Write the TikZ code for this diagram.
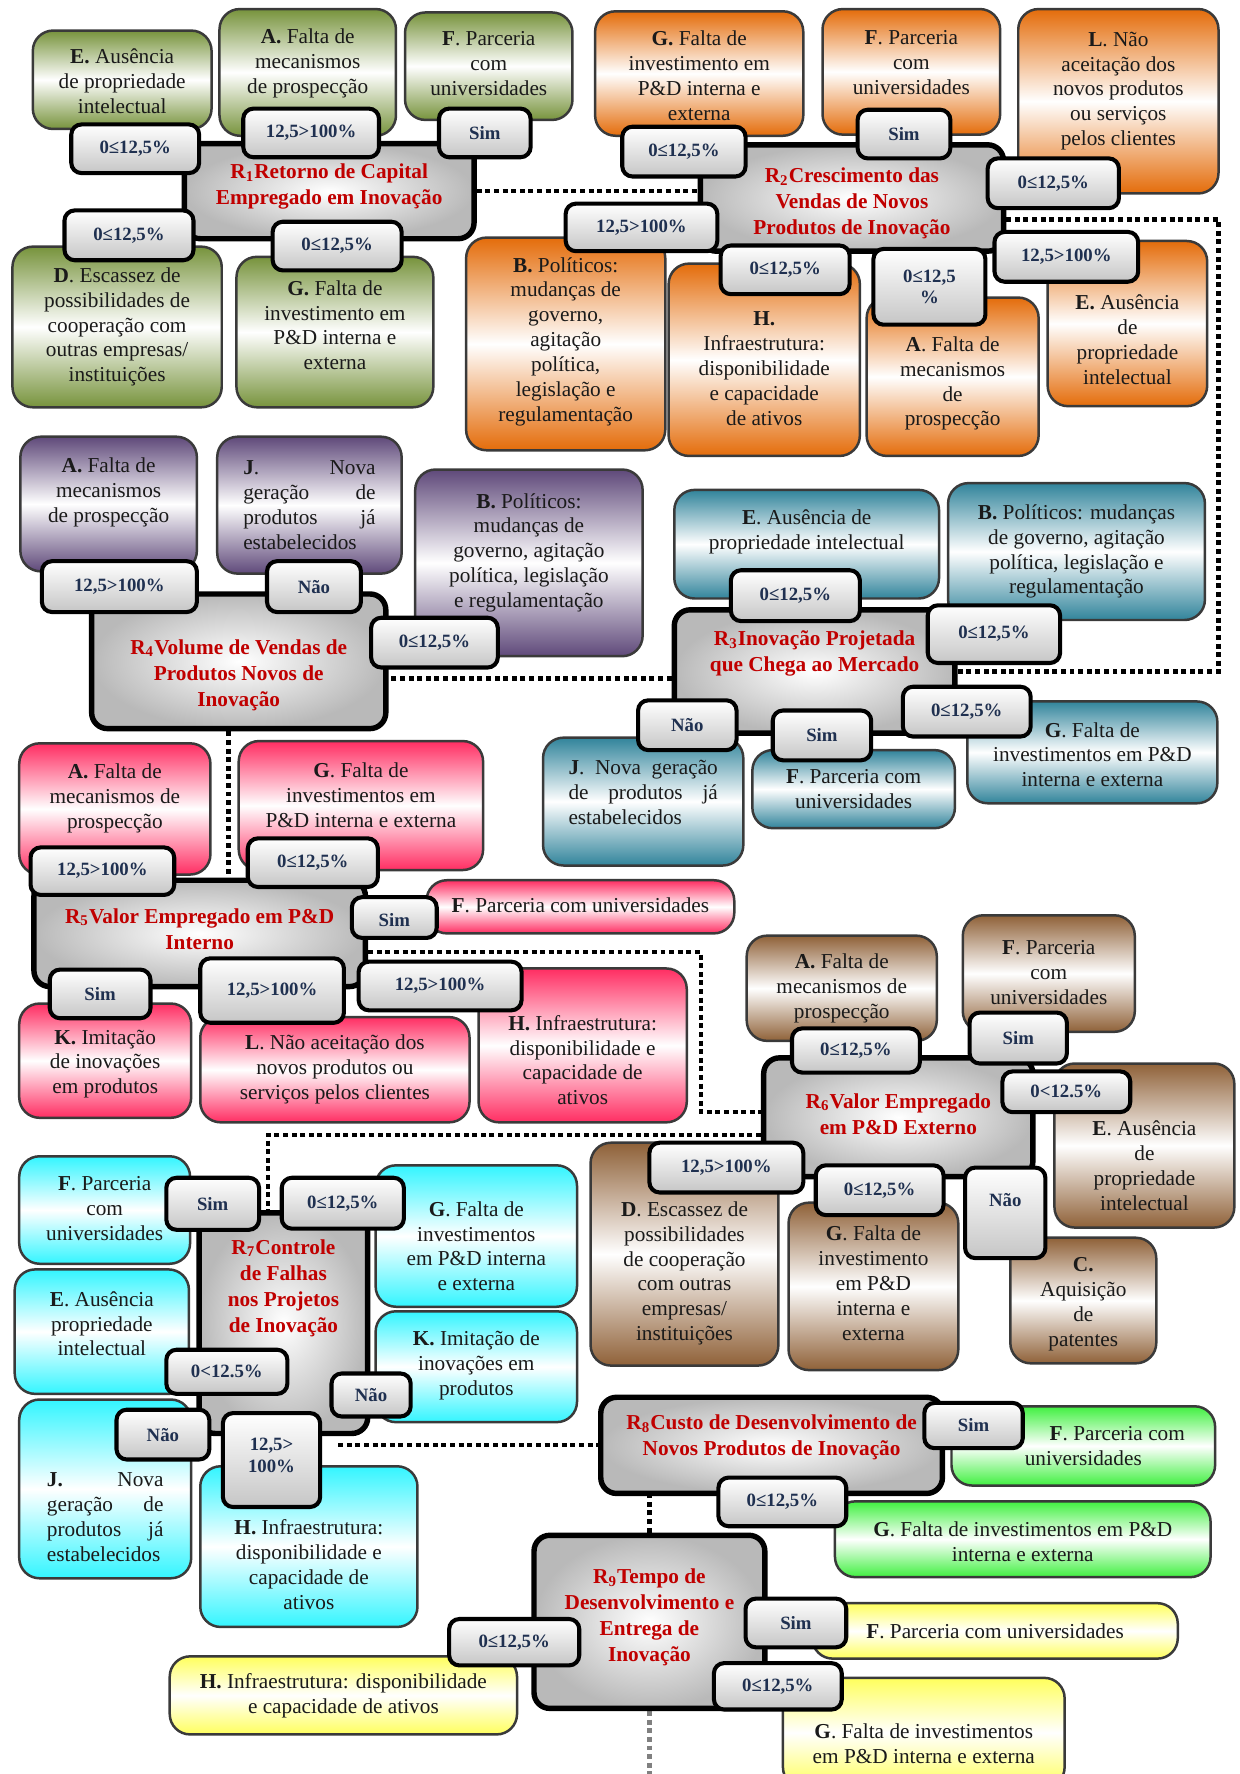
\documentclass[tikz,border=0pt]{standalone}
\usepackage{fontspec}
\setmainfont{Liberation Serif}
\usetikzlibrary{backgrounds}
\definecolor{cOl}{HTML}{77933C}
\definecolor{cOr}{HTML}{E46C0A}
\definecolor{cPu}{HTML}{5F497A}
\definecolor{cTe}{HTML}{31849B}
\definecolor{cPk}{HTML}{FF2D62}
\definecolor{cBr}{HTML}{8F6138}
\definecolor{cCy}{HTML}{33F5FF}
\definecolor{cGr}{HTML}{40F040}
\definecolor{cYe}{HTML}{FFFF5C}
\definecolor{cNavy}{HTML}{1F3050}
\definecolor{cRed}{HTML}{C00000}
\definecolor{cBd}{HTML}{3A3A3A}
\definecolor{cTx}{HTML}{1A1A1A}
\tikzset{
  cat/.style={rounded corners=9pt, draw=cBd, line width=1.1pt, top color=#1, bottom color=#1, middle color=white, inner sep=0pt},
  ct/.style={font=\fontsize{9.4}{11}\selectfont, align=center, inner sep=0pt, text=cTx},
  jt/.style={font=\fontsize{9.4}{11}\selectfont, align=left, text width=#1, inner sep=0pt, text=cTx},
  lab/.style={rounded corners=4.5pt, draw=black, line width=1.8pt, top color=white, bottom color=gray!45, inner sep=0pt},
  lt/.style={font=\bfseries\fontsize{8.3}{9.5}\selectfont, text=cNavy, align=center, inner sep=0pt},
  rb/.style={rounded corners=7pt, draw=black, line width=2.4pt, inner color=white, outer color=gray!55, inner sep=0pt},
  rt/.style={font=\bfseries\fontsize{9.4}{11.5}\selectfont, text=cRed, align=center, inner sep=0pt},
  dl/.style={line width=2pt, dash pattern=on 2.2pt off 1.6pt}
}
% #1 box style, #2 text style, #3 name, #4 x1, #5 y1, #6 x2, #7 y2, #8 text dy, #9 text
\newcommand\bx[9]{%
 \pgfmathsetmacro\bxcx{(#4+#6)/2}%
 \pgfmathsetmacro\bxcy{(#5+#7)/2}%
 \pgfmathsetmacro\bxty{(#5+#7)/2+(#8)}%
 \pgfmathsetmacro\bxw{(#6-#4)/2}%
 \pgfmathsetmacro\bxh{(#7-#5)/2}%
 \node[#1,minimum width=\bxw pt,minimum height=\bxh pt] (#3) at (\bxcx,\bxcy) {};%
 \node[#2] (#3-t) at (\bxcx,\bxty) {#9};%
}
\begin{document}
\begin{tikzpicture}[x=0.5pt,y=-0.5pt]
\useasboundingbox (0,0) rectangle (1096,1568);
% ---------- category boxes ----------
% R1 (olive)
\bx{cat=cOl}{ct}{E1}{29}{27}{187}{114}{1}{\textbf{E.} Ausência\\de propriedade\\intelectual}
\bx{cat=cOl}{ct}{A1}{194}{8}{350}{120}{-8}{\textbf{A.} Falta de\\mecanismos\\de prospecção}
\bx{cat=cOl}{ct}{F1}{358}{11}{506}{106}{-2}{\textbf{F}. Parceria\\com\\universidades}
\bx{cat=cOl}{ct}{D1}{11}{218}{196}{360}{0}{\textbf{D}. Escassez de\\possibilidades de\\cooperação com\\outras empresas/\\instituições}
\bx{cat=cOl}{ct}{G1}{209}{227}{383}{360}{-6}{\textbf{G.} Falta de\\investimento em\\P\&D interna e\\externa}
% R2 (orange)
\bx{cat=cOr}{ct}{G2}{526}{10}{710}{120}{2}{\textbf{G.} Falta de\\investimento em\\P\&D interna e\\externa}
\bx{cat=cOr}{ct}{F2}{727}{8}{884}{119}{-8}{\textbf{F}. Parceria\\com\\universidades}
\bx{cat=cOr}{ct}{L2}{900}{8}{1077}{171}{-9}{\textbf{L}. Não\\aceitação dos\\novos produtos\\ou serviços\\pelos clientes}
\bx{cat=cOr}{ct}{B2}{412}{210}{588}{398}{-2}{\textbf{B.} Políticos:\\mudanças de\\governo,\\agitação\\política,\\legislação e\\regulamentação}
\bx{cat=cOr}{ct}{H2}{591}{233}{760}{403}{8}{\textbf{H.}\\Infraestrutura:\\disponibilidade\\e capacidade\\de ativos}
\bx{cat=cOr}{ct}{A2}{766}{263}{918}{403}{6}{\textbf{A}. Falta de\\mecanismos\\de\\prospecção}
\bx{cat=cOr}{ct}{E2}{926}{213}{1067}{359}{14}{\textbf{E.} Ausência\\de\\propriedade\\intelectual}
% R4 (purple)
\bx{cat=cPu}{ct}{A4}{18}{386}{174}{505}{-10}{\textbf{A.} Falta de\\mecanismos\\de prospecção}
\bx{cat=cPu}{jt=58.5pt}{J4}{192}{386}{355}{507}{0}{\textbf{J}.\hfill Nova\\geração\hfill de\\produtos\hfill já\\estabelecidos}
\bx{cat=cPu}{ct}{B4}{367}{415}{568}{580}{-9}{\textbf{B.} Políticos:\\mudanças de\\governo, agitação\\política, legislação\\e regulamentação}
% R3 (teal)
\bx{cat=cTe}{ct}{E3}{596}{433}{830}{529}{-11}{\textbf{E}. Ausência de\\propriedade intelectual}
\bx{cat=cTe}{ct}{B3}{838}{427}{1065}{548}{0}{\textbf{B.} Políticos: mudanças\\de governo, agitação\\política, legislação e\\regulamentação}
\bx{cat=cTe}{jt=66pt}{J3}{480}{652}{657}{765}{-8}{\textbf{J}.\hfill Nova\hfill geração\\de\hfill produtos\hfill já\\estabelecidos}
\bx{cat=cTe}{ct}{F3}{665}{663}{844}{732}{0}{\textbf{F}. Parceria com\\universidades}
\bx{cat=cTe}{ct}{G3}{855}{620}{1076}{710}{2}{\textbf{G}. Falta de\\investimentos em P\&D\\interna e externa}
% R5 (pink)
\bx{cat=cPk}{ct}{A5}{17}{657}{186}{773}{-9}{\textbf{A.} Falta de\\mecanismos de\\prospecção}
\bx{cat=cPk}{ct}{G5}{211}{655}{427}{769}{-9}{\textbf{G}. Falta de\\investimentos em\\P\&D interna e externa}
\bx{cat=cPk}{ct}{F5}{377}{778}{649}{825}{-1}{\textbf{F}. Parceria com universidades}
\bx{cat=cPk}{ct}{K5}{17}{887}{169}{988}{3}{\textbf{K.} Imitação\\de inovações\\em produtos}
\bx{cat=cPk}{ct}{L5}{177}{899}{415}{992}{0}{\textbf{L}. Não aceitação dos\\novos produtos ou\\serviços pelos clientes}
\bx{cat=cPk}{ct}{H5}{423}{856}{607}{992}{13}{\textbf{H.} Infraestrutura:\\disponibilidade e\\capacidade de\\ativos}
% R6 (brown)
\bx{cat=cBr}{ct}{A6}{660}{827}{828}{920}{0}{\textbf{A.} Falta de\\mecanismos de\\prospecção}
\bx{cat=cBr}{ct}{F6}{851}{809}{1003}{912}{-1}{\textbf{F}. Parceria\\com\\universidades}
\bx{cat=cBr}{ct}{E6}{932}{940}{1091}{1085}{18}{\textbf{E}. Ausência\\de\\propriedade\\intelectual}
\bx{cat=cBr}{ct}{D6}{522}{1010}{688}{1207}{17}{\textbf{D}. Escassez de\\possibilidades\\de cooperação\\com outras\\empresas/\\instituições}
\bx{cat=cBr}{ct}{G6}{697}{1063}{847}{1211}{-3}{\textbf{G}. Falta de\\investimento\\em P\&D\\interna e\\externa}
\bx{cat=cBr}{ct}{C6}{893}{1094}{1022}{1205}{3}{\textbf{C.}\\Aquisição\\de\\patentes}
% R7 (cyan)
\bx{cat=cCy}{ct}{F7}{17}{1022}{168}{1117}{-1}{\textbf{F}. Parceria\\com\\universidades}
\bx{cat=cCy}{ct}{G7}{332}{1030}{510}{1155}{9}{\textbf{G}. Falta de\\investimentos\\em P\&D interna\\e externa}
\bx{cat=cCy}{ct}{E7}{13}{1122}{167}{1232}{-7}{\textbf{E}. Ausência\\propriedade\\intelectual}
\bx{cat=cCy}{ct}{K7}{332}{1159}{510}{1257}{-1}{\textbf{K.} Imitação de\\inovações em\\produtos}
\bx{cat=cCy}{jt=51.5pt}{J7}{17}{1237}{169}{1395}{25}{\textbf{J.}\hfill Nova\\geração\hfill de\\produtos\hfill já\\estabelecidos}
\bx{cat=cCy}{ct}{H7}{177}{1296}{369}{1438}{16}{\textbf{H.} Infraestrutura:\\disponibilidade e\\capacidade de\\ativos}
% R8 (green)
\bx{cat=cGr}{ct}{F8}{841}{1243}{1074}{1313}{0}{\hspace*{30pt}\textbf{F}. Parceria com\\universidades}
\bx{cat=cGr}{ct}{G8}{738}{1327}{1070}{1394}{2}{\textbf{G}. Falta de investimentos em P\&D\\interna e externa}
% R9 (yellow)
\bx{cat=cYe}{ct}{F9}{718}{1417}{1041}{1466}{0}{\textbf{F}. Parceria com universidades}
\bx{cat=cYe}{ct}{G9}{692}{1483}{941}{1580}{9.5}{\textbf{G}. Falta de investimentos\\em P\&D interna e externa}
\bx{cat=cYe}{ct}{H9}{150}{1464}{457}{1533}{0}{\textbf{H.} Infraestrutura: disponibilidade\\e capacidade de ativos}
% ---------- central R boxes ----------
\bx{rb}{rt}{R1}{163}{127}{419}{211}{-4}{R\textsubscript{1}Retorno de Capital\\Empregado em Inovação}
\bx{rb}{rt}{R2}{619}{128}{887}{222}{5}{R\textsubscript{2}Crescimento das\\Vendas de Novos\\Produtos de Inovação}
\bx{rb}{rt}{R4}{81}{525}{341}{644}{12}{R\textsubscript{4}Volume de Vendas de\\Produtos Novos de\\Inovação}
\bx{rb}{rt}{R3}{596}{539}{844}{648}{-16}{R\textsubscript{3}Inovação Projetada\\que Chega ao Mercado}
\bx{rb}{rt}{R5}{30}{778}{323}{872}{-4}{R\textsubscript{5}Valor Empregado em P\&D\\Interno}
\bx{rb}{rt}{R6}{675}{935}{913}{1040}{-3}{R\textsubscript{6}Valor Empregado\\em P\&D Externo}
\bx{rb}{rt}{R7}{176}{1072}{325}{1267}{-31}{R\textsubscript{7}Controle\\de Falhas\\nos Projetos\\de Inovação}
\bx{rb}{rt}{R8}{531}{1235}{833}{1320}{-7}{R\textsubscript{8}Custo de Desenvolvimento de\\Novos Produtos de Inovação}
\bx{rb}{rt}{R9}{472}{1357}{676}{1510}{-4}{R\textsubscript{9}Tempo de\\Desenvolvimento e\\Entrega de\\Inovação}
% ---------- labels ----------
\bx{lab}{lt}{l1a}{63}{110}{176}{153}{0}{0≤12,5\%}
\bx{lab}{lt}{l1b}{215}{96}{335}{139}{0}{12,5>100\%}
\bx{lab}{lt}{l1c}{388}{96}{469}{139}{0}{Sim}
\bx{lab}{lt}{l1d}{57}{186}{171}{230}{0}{0≤12,5\%}
\bx{lab}{lt}{l1e}{241}{196}{355}{239}{0}{0≤12,5\%}
\bx{lab}{lt}{l2a}{550}{112}{659}{156}{0}{0≤12,5\%}
\bx{lab}{lt}{l2b}{758}{97}{840}{140}{0}{Sim}
\bx{lab}{lt}{l2c}{873}{140}{989}{184}{0}{0≤12,5\%}
\bx{lab}{lt}{l2d}{500}{180}{634}{222}{0}{12,5>100\%}
\bx{lab}{lt}{l2e}{637}{217}{751}{260}{0}{0≤12,5\%}
\bx{lab}{lt}{l2f}{772}{220}{871}{287}{0}{0≤12,5\\\%}
\bx{lab}{lt}{l2g}{879}{205}{1006}{249}{0}{12,5>100\%}
\bx{lab}{lt}{l4a}{37}{496}{174}{541}{0}{12,5>100\%}
\bx{lab}{lt}{l4b}{236}{496}{319}{541}{0}{Não}
\bx{lab}{lt}{l4c}{328}{546}{440}{590}{0}{0≤12,5\%}
\bx{lab}{lt}{l3a}{646}{504}{760}{549}{0}{0≤12,5\%}
\bx{lab}{lt}{l3b}{820}{535}{937}{586}{0}{0≤12,5\%}
\bx{lab}{lt}{l3c}{564}{619}{651}{663}{0}{Não}
\bx{lab}{lt}{l3d}{683}{628}{770}{672}{0}{Sim}
\bx{lab}{lt}{l3e}{798}{607}{911}{651}{0}{0≤12,5\%}
\bx{lab}{lt}{l5a}{27}{749}{154}{791}{0}{12,5>100\%}
\bx{lab}{lt}{l5b}{219}{741}{334}{784}{0}{0≤12,5\%}
\bx{lab}{lt}{l5c}{311}{793}{386}{829}{2}{Sim}
\bx{lab}{lt}{l5d}{44}{857}{133}{900}{0}{Sim}
\bx{lab}{lt}{l5e}{177}{847}{304}{904}{0}{12,5>100\%}
\bx{lab}{lt}{l5f}{317}{850}{461}{893}{0}{12,5>100\%}
\bx{lab}{lt}{l6a}{700}{909}{813}{948}{0}{0≤12,5\%}
\bx{lab}{lt}{l6b}{857}{895}{943}{940}{0}{Sim}
\bx{lab}{lt}{l6c}{886}{947}{999}{983}{0}{0<12.5\%}
\bx{lab}{lt}{l6d}{574}{1010}{710}{1054}{0}{12,5>100\%}
\bx{lab}{lt}{l6e}{721}{1030}{834}{1074}{0}{0≤12,5\%}
\bx{lab}{lt}{l6f}{853}{1032}{924}{1112}{-11}{Não}
\bx{lab}{lt}{l7a}{147}{1041}{229}{1087}{0}{Sim}
\bx{lab}{lt}{l7b}{249}{1041}{357}{1086}{0}{0≤12,5\%}
\bx{lab}{lt}{l7c}{147}{1193}{254}{1232}{0}{0<12.5\%}
\bx{lab}{lt}{l7d}{293}{1214}{363}{1252}{0}{Não}
\bx{lab}{lt}{l7e}{103}{1246}{185}{1290}{0}{Não}
\bx{lab}{lt}{l7f}{197}{1249}{283}{1332}{-4}{12,5>\\100\%}
\bx{lab}{lt}{l8a}{817}{1240}{904}{1280}{0}{Sim}
\bx{lab}{lt}{l8b}{635}{1306}{748}{1349}{0}{0≤12,5\%}
\bx{lab}{lt}{l9a}{659}{1413}{748}{1456}{0}{Sim}
\bx{lab}{lt}{l9b}{631}{1470}{744}{1511}{0}{0≤12,5\%}
\bx{lab}{lt}{l9c}{397}{1431}{512}{1472}{0}{0≤12,5\%}
% ---------- dotted connectors ----------
\coordinate (c23) at (1077,400);
\coordinate (c56) at (619.5,900);
\coordinate (c78) at (299,1277);
\coordinate (cend) at (574,1580);
\begin{scope}[on background layer]
\draw[dl] (R1.east) -- (R1.east -| R2.west);
\draw[dl] ([yshift=-9.5pt]R2.east) -| (c23) |- (R3.east);
\draw[dl] ([yshift=-3pt]R3.west) -- ([yshift=-3pt]R3.west -| R4.east);
\draw[dl] ([xshift=-4.5pt]R4.south) -- ([xshift=-4.5pt]R4.south |- R5.north);
\draw[dl] ([yshift=-8.25pt]R5.east) -| (c56) |- ([yshift=2.25pt]R6.west);
\draw[dl] ([yshift=-7.75pt]R6.west) -| ([xshift=-6.75pt]R7.north);
\draw[dl] (c78) -- (c78 -| R8.west);
\draw[dl] (R9.north) -- (R9.north |- R8.south);
\draw[dl, gray] (R9.south) -- (cend);
\end{scope}
\end{tikzpicture}
\end{document}
